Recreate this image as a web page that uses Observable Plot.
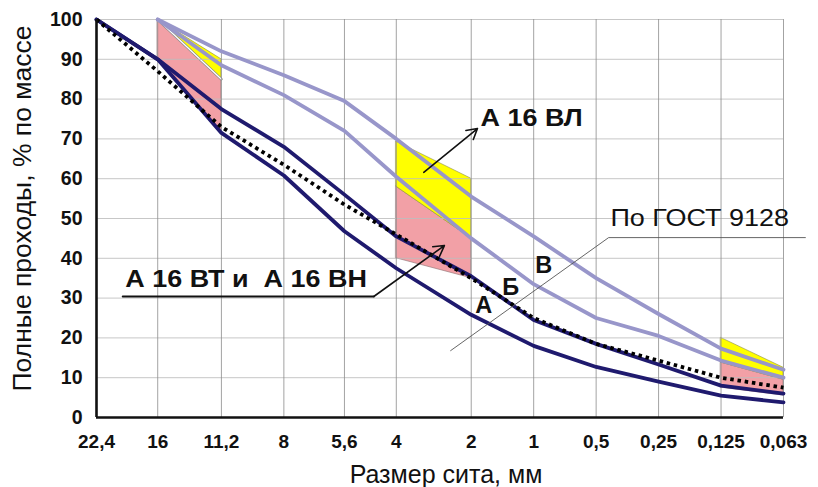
<!DOCTYPE html>
<html>
<head>
<meta charset="utf-8">
<script src="https://cdn.jsdelivr.net/npm/d3@7"></script>
<script src="https://cdn.jsdelivr.net/npm/@observablehq/plot@0.6"></script>
<style>
  html, body { margin: 0; padding: 0; background: #fff; }
  #chart svg { display: block; }
</style>
</head>
<body>
<div id="chart"></div>
<script>
// Sieve sizes (x categories) and their place on the chart's non-uniform axis
const sieveLabels = ["22,4","16","11,2","8","5,6","4","2","1","0,5","0,25","0,125","0,063"];
const sievePos    = [0, 0.98, 2, 3, 3.97, 4.8, 6, 7, 8, 9, 10, 11];

// Series values (% passing), null = not drawn
const gost9128   = [100, 87, 73, 63.5, 53.5, 46, 35, 25, 18.5, 14.3, 10, 7.5];
const navyUpperB = [100, 90, 77.5, 68, 56, 45.5, 35.5, 24.5, 18.5, 13.3, 8, 6];
const navyLowerA = [100, 90, 71.5, 60.8, 46.8, 37.5, 25.8, 18, 12.7, 9, 5.5, 3.8];
const lightUpperV = [null, 100, 92, 86, 79.5, 70, 55.5, 45.5, 35, 26, 17.3, 12];
const lightLower  = [null, 100, 88.5, 81, 72, 60.5, 45, 33.5, 25, 20.5, 14.3, 10];

// Shaded zones: sieve pairs and boundary values
const zoneSieves   = [["16","11,2"], ["4","2"], ["0,125","0,063"]];
const yellowTop    = [[100, 90], [69.3, 60], [20, 12.5]];
const yellowBottom = [[100, 85], [58, 45], [13.8, 9.5]];
const pinkBottom   = [[90, 71.5], [40, 35], [7.5, 5.5]];

const yTicks = d3.range(0, 101, 10);

const posOf = lab => sievePos[sieveLabels.indexOf(lab)];

const toRows = (name, vals) => vals.map((v, i) => ({name, x: sievePos[i], y: v})).filter(d => d.y != null);
const navyRows = [...toRows("A", navyLowerA), ...toRows("B", navyUpperB)];
const lightRows = [...toRows("V", lightUpperV), ...toRows("L", lightLower)];
const gostRows = toRows("G", gost9128);

const zoneRows = zoneSieves.flatMap((pair, k) => pair.map((lab, j) => ({
  zone: k, x: posOf(lab), yt: yellowTop[k][j], yb: yellowBottom[k][j], pb: pinkBottom[k][j]
})));
const firstZone = zoneRows.filter(d => d.zone === 0);

// annotations (data coordinates)
const boldNotes = [
  {x: 6.15, y: 75.3, t: "А 16 ВЛ"},
  {x: 0.46, y: 34.7, t: "А 16 ВТ и  А 16 ВН"},
];
const plainNotes = [{x: 8.23, y: 50, t: "По ГОСТ 9128"}];
const curveLetters = [
  {x: 6.2, y: 28.1, t: "А"},
  {x: 6.63, y: 32.7, t: "Б"},
  {x: 7.16, y: 38.2, t: "В"},
];
const arrows = [
  {x1: 5.24, y1: 61.6, x2: 6.1, y2: 72.6},
  {x1: 4.44, y1: 30.4, x2: 5.57, y2: 43.2},
];
const underline = [{x: 0.42, y: 30.4}, {x: 4.44, y: 30.4}];
const gostLeader = [{x: 11.35, y: 45.2}, {x: 8.2, y: 45.2}, {x: 5.67, y: 16.8}];

const chart = Plot.plot({
  width: 818,
  height: 487,
  marginLeft: 96,
  marginRight: 35,
  marginTop: 19,
  marginBottom: 70,
  style: {fontFamily: "'Liberation Sans', Arial, sans-serif", background: "#fff", overflow: "visible"},
  x: {type: "linear", domain: [0, 11]},
  y: {domain: [0, 100]},
  marks: [
    Plot.areaY(zoneRows, {x: "x", y1: "pb", y2: "yb", z: "zone", fill: "#f2a0a6", stroke: "#8a6f70", strokeWidth: 0.6}),
    Plot.areaY(zoneRows, {x: "x", y1: "yb", y2: "yt", z: "zone", fill: "#ffff00", stroke: "#8a8a40", strokeWidth: 0.6}),
    Plot.line(firstZone, {x: "x", y: "yb", stroke: "#888", strokeWidth: 2.6}),
    Plot.line(firstZone, {x: "x", y: "yb", stroke: "#fff", strokeWidth: 1.3}),
    Plot.gridY(yTicks, {stroke: "#bdbdbd", strokeOpacity: 0.85, strokeWidth: 1}),
    Plot.gridX(sievePos.slice(1), {stroke: "#8c8c8c", strokeOpacity: 0.8, strokeWidth: 1}),
    Plot.axisY(yTicks, {tickSize: 0, tickPadding: 14, fontSize: 19.5, fontWeight: "bold", fill: "#111", label: null}),
    Plot.axisX(sievePos, {tickSize: 0, tickPadding: 17, fontSize: 19, fontWeight: "bold", fill: "#111", label: null,
      tickFormat: d => sieveLabels[sievePos.indexOf(d)]}),
    Plot.line(lightRows, {x: "x", y: "y", z: "name", stroke: "#9896ca", strokeWidth: 3.8}),
    Plot.line(navyRows, {x: "x", y: "y", z: "name", stroke: "#1f1a6e", strokeWidth: 3.8}),
    Plot.line(gostRows, {x: "x", y: "y", stroke: "#000", strokeWidth: 3.8, strokeDasharray: "3.5 3.8",
      strokeLinecap: "butt", strokeLinejoin: "miter"}),
    Plot.line(underline, {x: "x", y: "y", stroke: "#111", strokeWidth: 2}),
    Plot.line(gostLeader, {x: "x", y: "y", stroke: "#555", strokeWidth: 0.9, clip: false}),
    Plot.arrow(arrows, {x1: "x1", y1: "y1", x2: "x2", y2: "y2", stroke: "#111", strokeWidth: 1.6, headLength: 11}),
    Plot.text(boldNotes, {x: "x", y: "y", text: "t", fontWeight: "bold", textAnchor: "start", fontSize: 24.5, fill: "#111"}),
    Plot.text(plainNotes, {x: "x", y: "y", text: "t", textAnchor: "start", fontSize: 24.5, fill: "#111"}),
    Plot.text(curveLetters, {x: "x", y: "y", text: "t", fontWeight: "bold", textAnchor: "middle", fontSize: 23.5, fill: "#111"}),
    Plot.ruleY([0], {stroke: "#111", strokeWidth: 2.6}),
    Plot.ruleX([0], {stroke: "#111", strokeWidth: 2.6}),
    Plot.text(["Полные проходы, % по массе"], {frameAnchor: "left", dx: -74, dy: -10, rotate: -90,
      textAnchor: "middle", lineAnchor: "middle", fontSize: 26.5, fill: "#111"}),
    Plot.text(["Размер сита, мм"], {frameAnchor: "bottom", dx: 6, dy: 57, lineAnchor: "middle", fontSize: 25, fill: "#111"}),
  ]
});
document.getElementById("chart").appendChild(chart);

// The reference lettering of the callouts is a little wider than Arial: stretch those texts horizontally
const wideTexts = new Set([...boldNotes, ...plainNotes].map(d => d.t));
d3.select(chart).selectAll("text").each(function() {
  if (!wideTexts.has(this.textContent)) return;
  const len = this.getComputedTextLength();
  if (len > 0) {
    this.setAttribute("textLength", (len * 1.1).toFixed(1));
    this.setAttribute("lengthAdjust", "spacingAndGlyphs");
  }
});
</script>
</body>
</html>
